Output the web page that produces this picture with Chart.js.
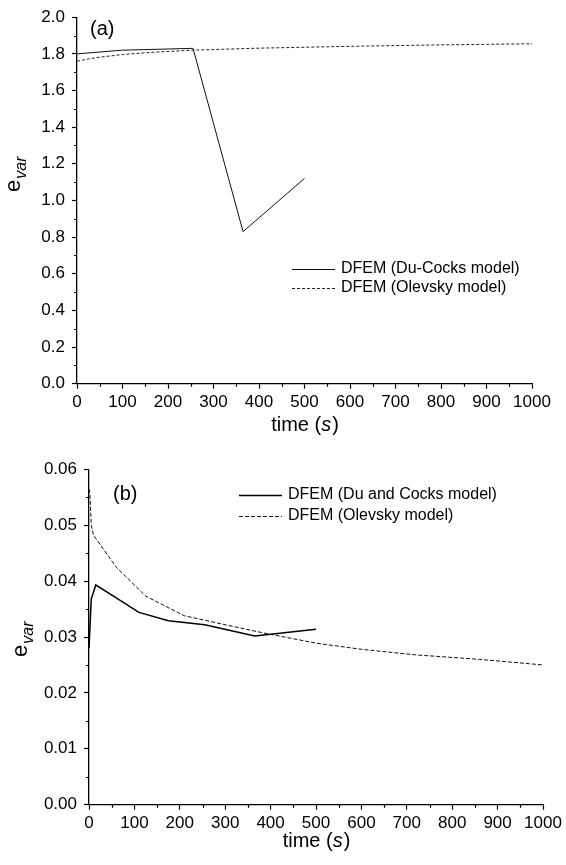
<!DOCTYPE html>
<html>
<head>
<meta charset="utf-8">
<script src="https://cdn.jsdelivr.net/npm/chart.js@4/dist/chart.umd.min.js"></script>
<style>
  html, body { margin: 0; padding: 0; background: #fff; }
  #wrap { position: relative; width: 566px; height: 865px; }
  #wrap canvas { position: absolute; left: 0; top: 0; }
</style>
</head>
<body>
<div id="wrap">
  <canvas id="chartA" width="566" height="865"></canvas>
  <canvas id="chartB" width="566" height="865"></canvas>
</div>
<script>
// (a) e_var over time, both models
const duCocksTimeA = [0, 100, 255, 365, 500];
const duCocksA     = [1.80, 1.82, 1.83, 0.83, 1.12];
const olevskyTimeA = [0, 25, 50, 100, 150, 200, 255, 400, 600, 800, 1000];
const olevskyA     = [1.76, 1.772, 1.782, 1.796, 1.806, 1.813, 1.82, 1.831, 1.841, 1.849, 1.855];

// (b)
const duCocksTimeB = [0, 5, 15, 60, 110, 175, 255, 365, 500];
const duCocksB     = [0.028, 0.0368, 0.0393, 0.0370, 0.0344, 0.0329, 0.0322, 0.0302, 0.0314];
const olevskyTimeB = [0, 2, 5, 10, 60, 125, 210, 300, 380, 500, 600, 720, 860, 1000];
const olevskyB     = [0.0565, 0.0555, 0.050, 0.0482, 0.0425, 0.0373, 0.0338, 0.0322, 0.0308, 0.0289, 0.0278, 0.0268, 0.026, 0.025];

const timeTicks = [0, 100, 200, 300, 400, 500, 600, 700, 800, 900, 1000];

const FONT = '"Liberation Sans", Arial, sans-serif';
const W = 566, H = 865;

const toPoints = (xs, ys) => xs.map((x, i) => ({ x: x, y: ys[i] }));

// small ticks halfway between the labelled ones
const minorTicks = {
  id: 'minorTicks',
  afterDraw(chart, args, o) {
    const ctx = chart.ctx;
    const xs = chart.scales.x, ys = chart.scales.y;
    ctx.save();
    ctx.strokeStyle = '#000';
    ctx.lineWidth = 1.2;
    ctx.beginPath();
    for (let v = o.xStep / 2; v < xs.max; v += o.xStep) {
      const px = Math.round(xs.getPixelForValue(v)) + 0.5;
      ctx.moveTo(px, ys.bottom);
      ctx.lineTo(px, ys.bottom + 3);
    }
    for (let v = o.yStep / 2; v < ys.max; v += o.yStep) {
      const py = Math.round(ys.getPixelForValue(v)) + 0.5;
      ctx.moveTo(xs.left, py);
      ctx.lineTo(xs.left - 3, py);
    }
    ctx.stroke();
    ctx.restore();
  }
};

// panel letter, axis titles and the legend
const annotations = {
  id: 'annotations',
  afterDraw(chart, args, o) {
    const ctx = chart.ctx;
    const xs = chart.scales.x;
    ctx.save();
    ctx.fillStyle = '#000';

    ctx.font = '20px ' + FONT;
    ctx.textBaseline = 'alphabetic';
    ctx.textAlign = 'left';
    ctx.fillText(o.letter, o.letterX, o.letterY);

    // time (s)
    const cx = (xs.left + xs.right) / 2;
    const a = 'time (', c = ')';
    ctx.font = 'italic 20px ' + FONT;
    const wb = ctx.measureText('s').width;
    ctx.font = '20px ' + FONT;
    const wa = ctx.measureText(a).width, wc = ctx.measureText(c).width;
    const x0 = cx - (wa + wb + wc) / 2;
    ctx.fillText(a, x0, o.titleY);
    ctx.font = 'italic 20px ' + FONT;
    ctx.fillText('s', x0 + wa, o.titleY);
    ctx.font = '20px ' + FONT;
    ctx.fillText(c, x0 + wa + wb + 1, o.titleY);

    // e_var, rotated
    ctx.save();
    ctx.translate(o.yTitleX, o.yTitleY);
    ctx.rotate(-Math.PI / 2);
    ctx.font = '22px ' + FONT;
    ctx.fillText('e', 0, 0);
    const we = ctx.measureText('e').width;
    ctx.font = 'italic 16px ' + FONT;
    ctx.fillText('var', we + 1, 6);
    ctx.restore();

    // legend
    ctx.font = '16px ' + FONT;
    ctx.textBaseline = 'middle';
    chart.data.datasets.forEach((ds, i) => {
      const ly = o.legendY[i];
      ctx.save();
      ctx.strokeStyle = ds.borderColor;
      ctx.lineWidth = ds.borderWidth;
      ctx.setLineDash(ds.borderDash || []);
      ctx.beginPath();
      ctx.moveTo(o.legendX, ly + 0.5);
      ctx.lineTo(o.legendX + o.legendLen, ly + 0.5);
      ctx.stroke();
      ctx.restore();
      ctx.fillText(ds.label, o.legendX + o.legendLen + 6, ly);
    });
    ctx.restore();
  }
};

function axisOpts(extra) {
  return Object.assign({
    type: 'linear',
    border: { color: '#000', width: 1.3 },
    grid: { drawOnChartArea: false, drawTicks: true, tickLength: 5, tickColor: '#000', tickWidth: 1.2 },
  }, extra);
}

function panel(id, cfg) {
  return new Chart(document.getElementById(id), {
    type: 'line',
    data: { datasets: cfg.datasets },
    options: {
      responsive: false,
      animation: false,
      devicePixelRatio: 1,
      layout: { padding: cfg.padding },
      plugins: {
        legend: { display: false },
        tooltip: { enabled: false },
        minorTicks: cfg.minor,
        annotations: cfg.notes
      },
      elements: { point: { radius: 0 }, line: { tension: 0 } },
      scales: {
        x: axisOpts({
          min: 0, max: 1000,
          afterBuildTicks: s => { s.ticks = timeTicks.map(v => ({ value: v })); },
          ticks: {
            color: '#000', font: { family: FONT, size: 17 }, padding: 3, maxRotation: 0, autoSkip: false,
            callback: v => String(v)
          },
          afterFit: s => { s.height = 40; }
        }),
        y: axisOpts({
          min: cfg.yMin, max: cfg.yMax,
          afterBuildTicks: s => { s.ticks = cfg.yTicks.map(v => ({ value: v })); },
          ticks: {
            color: '#000', font: { family: FONT, size: 17 }, padding: 7, autoSkip: false,
            callback: v => v.toFixed(cfg.yDigits)
          },
          afterFit: s => { s.width = cfg.yWidth; }
        })
      }
    },
    plugins: [minorTicks, annotations]
  });
}

const yTicksA = [0, 0.2, 0.4, 0.6, 0.8, 1.0, 1.2, 1.4, 1.6, 1.8, 2.0];
const yTicksB = [0, 0.01, 0.02, 0.03, 0.04, 0.05, 0.06];

panel('chartA', {
  datasets: [
    { label: 'DFEM (Du-Cocks model)', data: toPoints(duCocksTimeA, duCocksA),
      borderColor: '#111', borderWidth: 1 },
    { label: 'DFEM (Olevsky model)', data: toPoints(olevskyTimeA, olevskyA),
      borderColor: '#222', borderWidth: 1, borderDash: [3, 2] }
  ],
  padding: { left: 0, right: W - 532, top: 14.5, bottom: H - 383.7 - 40 },
  yMin: 0, yMax: 2, yTicks: yTicksA, yDigits: 1, yWidth: 77,
  minor: { xStep: 100, yStep: 0.2 },
  notes: { letter: '(a)', letterX: 90, letterY: 35, titleY: 431,
           yTitleX: 20, yTitleY: 192,
           legendX: 292, legendLen: 43, legendY: [269, 288] }
});

panel('chartB', {
  datasets: [
    { label: 'DFEM (Du and Cocks model)', data: toPoints(duCocksTimeB, duCocksB),
      borderColor: '#000', borderWidth: 1.5 },
    { label: 'DFEM (Olevsky model)', data: toPoints(olevskyTimeB, olevskyB),
      borderColor: '#111', borderWidth: 1, borderDash: [4, 2] }
  ],
  padding: { left: 0, right: W - 543, top: 469.3, bottom: H - 804.7 - 40 },
  yMin: 0, yMax: 0.06, yTicks: yTicksB, yDigits: 2, yWidth: 89,
  minor: { xStep: 100, yStep: 0.01 },
  notes: { letter: '(b)', letterX: 113, letterY: 500, titleY: 847,
           yTitleX: 27, yTitleY: 657,
           legendX: 239, legendLen: 43, legendY: [495, 516] }
});
</script>
</body>
</html>
